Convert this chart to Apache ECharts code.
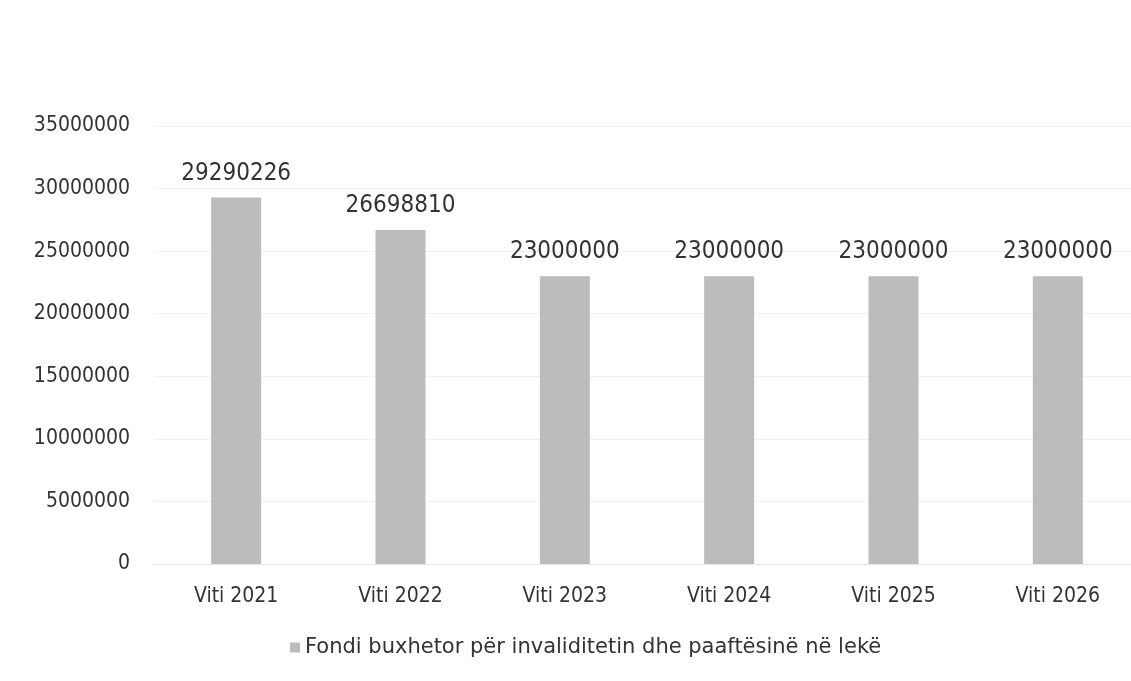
<!DOCTYPE html>
<html>
<head>
<meta charset="utf-8">
<script src="https://cdn.jsdelivr.net/npm/echarts@6/dist/echarts.min.js"></script>
<style>
	html, body { margin: 0; padding: 0; background: #fff; overflow: hidden; }
	#chart { width: 1145px; height: 681px; }
</style>
</head>
<body>
<div id="chart"></div>
<script>
const categories = ['Viti 2021', 'Viti 2022', 'Viti 2023', 'Viti 2024', 'Viti 2025', 'Viti 2026']
const fondiValues = [29290226, 26698810, 23000000, 23000000, 23000000, 23000000]
const seriesName = 'Fondi buxhetor për invaliditetin dhe paaftësinë në lekë'

const fontFamily = '"DejaVu Sans Condensed", "DejaVu Sans", sans-serif'
const chart = echarts.init(document.getElementById('chart'))

const option = {
	animation: false,
	textStyle: { fontFamily: fontFamily },
	grid: {
		left: 154,
		top: 126,
		width: 986,
		bottom: 117
	},
	legend: {
		bottom: 18,
		left: 285,
		itemWidth: 10,
		itemHeight: 10,
		itemGap: 6,
		icon: 'rect',
		textStyle: { fontSize: 21, color: '#333', fontFamily: '"DejaVu Sans", sans-serif' },
		data: [seriesName]
	},
	xAxis: {
		type: 'category',
		data: categories,
		axisTick: { show: false },
		axisLine: { lineStyle: { color: '#e6e6e6' } },
		axisLabel: { fontSize: 21, color: '#333', margin: 22 }
	},
	yAxis: {
		type: 'value',
		min: 0,
		max: 35000000,
		interval: 5000000,
		axisLine: { show: false },
		axisTick: { show: false },
		splitLine: { lineStyle: { color: '#f0f0f0' } },
		axisLabel: {
			fontSize: 21,
			color: '#333',
			margin: 24,
			formatter: v => String(v)
		}
	},
	series: [
		{
			name: seriesName,
			type: 'bar',
			data: fondiValues,
			barWidth: 50,
			itemStyle: { color: '#bcbcbc' },
			label: {
				show: true,
				position: 'top',
				distance: 12,
				fontSize: 24,
				color: '#333'
			}
		}
	]
}

chart.setOption(option)
</script>
</body>
</html>
